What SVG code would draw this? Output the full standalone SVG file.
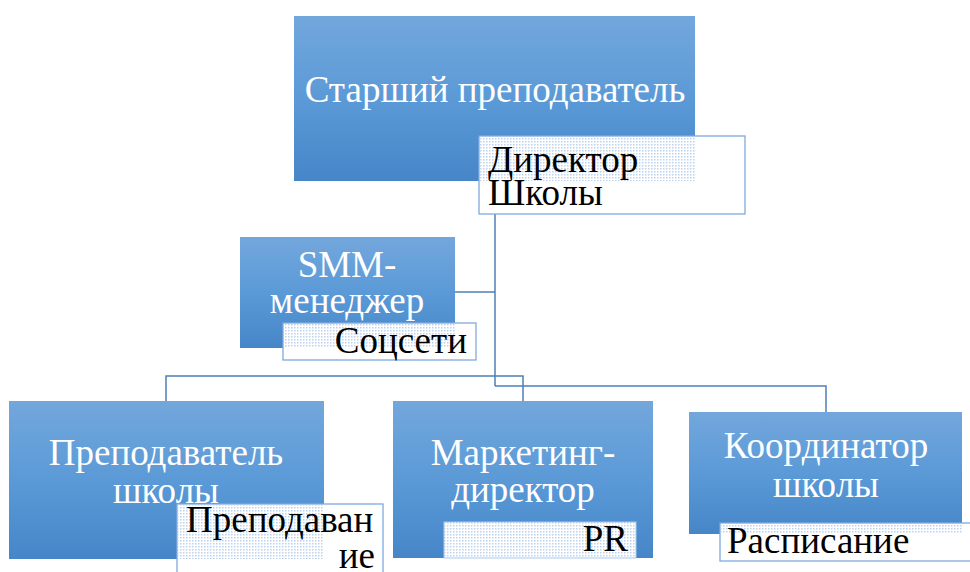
<svg xmlns="http://www.w3.org/2000/svg" width="970" height="572" viewBox="0 0 970 572">
<defs>
<linearGradient id="g" x1="0" y1="0" x2="0" y2="1">
<stop offset="0" stop-color="#73a7dc"/>
<stop offset="0.5" stop-color="#5b9ad7"/>
<stop offset="1" stop-color="#4686c8"/>
</linearGradient>
<pattern id="dots" width="3" height="3" patternUnits="userSpaceOnUse">
<rect width="3" height="3" fill="#ffffff"/>
<rect x="0" y="0" width="1.5" height="1.5" fill="#bcd2ef"/>
</pattern>
<style>
.box{fill:url(#g);}
.wt{font-family:"Liberation Serif","Times New Roman",serif;font-size:37px;fill:#ffffff;text-anchor:middle;}
.bt{font-family:"Liberation Serif","Times New Roman",serif;font-size:37px;fill:#000000;}
.lb{fill:#ffffff;stroke:#7eaadf;stroke-width:1.3;}
.ov{fill:url(#dots);}
.ln{fill:none;stroke:#4f7fb5;stroke-width:1.5;}
</style>
</defs>
<rect width="970" height="572" fill="#ffffff"/>
<g id="connectors">
<path class="ln" d="M495 214 V386"/>
<path class="ln" d="M455 292 H495"/>
<path class="ln" d="M166 401 V376 H523 V401"/>
<path class="ln" d="M495 386 H826 V412"/>
</g>
<g id="senior">
<rect class="box" x="294" y="16" width="401" height="165"/>
<text class="wt" x="495" y="102">Старший преподаватель</text>
<rect class="lb" x="479" y="136" width="266" height="78"/>
<rect class="ov" x="480" y="137" width="215" height="44"/>
<text class="bt" x="488" y="172">Директор</text>
<text class="bt" x="488" y="205">Школы</text>
</g>
<g id="smm">
<rect class="box" x="240" y="237" width="215" height="111"/>
<text class="wt" x="347" y="277">SMM-</text>
<text class="wt" x="347" y="313">менеджер</text>
<rect class="lb" x="283" y="323" width="193" height="37"/>
<rect class="ov" x="284" y="324" width="171" height="24"/>
<text class="bt" x="467" y="353" text-anchor="end">Соцсети</text>
</g>
<g id="teacher">
<rect class="box" x="9" y="401" width="315" height="158"/>
<text class="wt" x="166" y="465">Преподаватель</text>
<text class="wt" x="166" y="503">школы</text>
<rect class="lb" x="177" y="504" width="206" height="80"/>
<rect class="ov" x="178" y="505" width="146" height="54"/>
<text class="bt" x="186" y="532">Преподаван</text>
<text class="bt" x="375" y="568" text-anchor="end">ие</text>
</g>
<g id="marketing">
<rect class="box" x="393" y="401" width="260" height="157"/>
<text class="wt" x="523" y="465">Маркетинг-</text>
<text class="wt" x="523" y="502">директор</text>
<rect class="ov" x="444" y="522" width="192" height="36"/>
<rect x="444" y="522" width="192" height="36" fill="none" stroke="#a9c8ec" stroke-width="1"/>
<text class="bt" x="628" y="551" text-anchor="end">PR</text>
</g>
<g id="coordinator">
<rect class="box" x="689" y="412" width="273" height="122"/>
<text class="wt" x="826" y="458">Координатор</text>
<text class="wt" x="826" y="497">школы</text>
<rect class="lb" x="720" y="523" width="260" height="38"/>
<rect class="ov" x="721" y="524" width="241" height="10"/>
<text class="bt" x="727" y="553">Расписание</text>
</g>
</svg>
